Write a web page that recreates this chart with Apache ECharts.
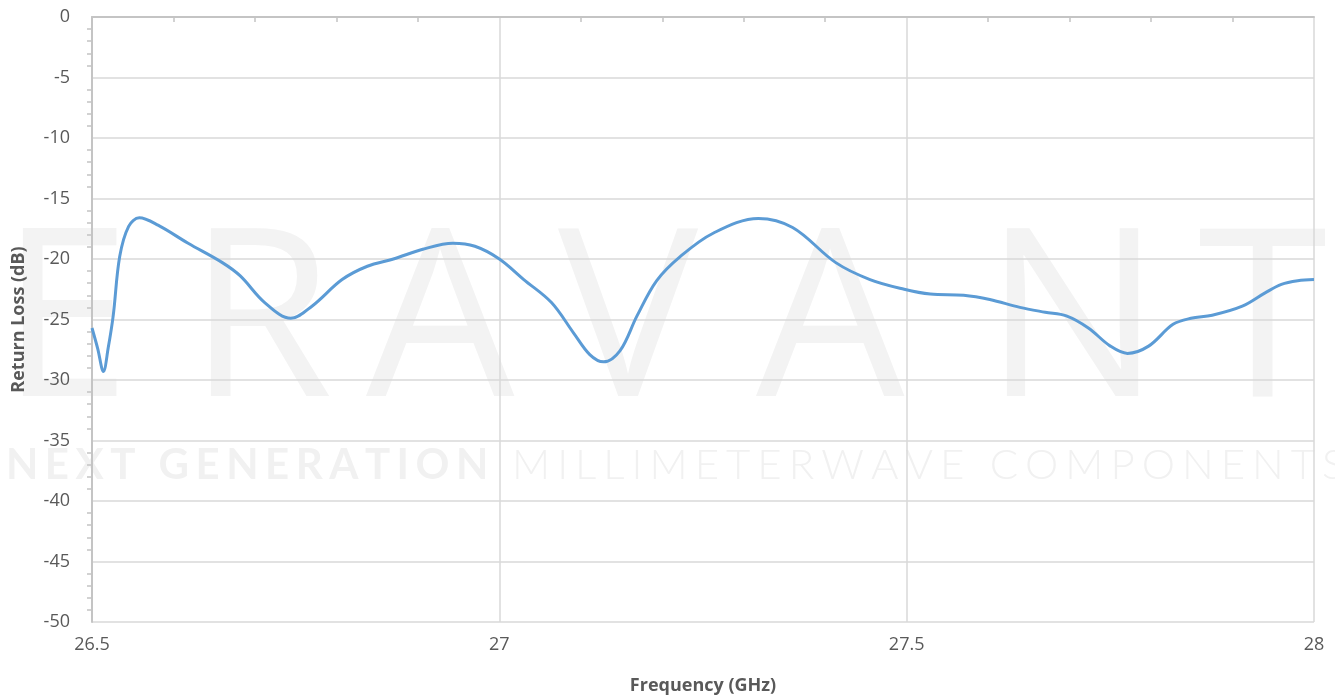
<!DOCTYPE html>
<html>
<head>
<meta charset="utf-8">
<script src="https://cdn.jsdelivr.net/npm/echarts@6/dist/echarts.min.js"></script>
<style>
  html, body { margin: 0; padding: 0; background: #ffffff; }
  #chart { width: 1335px; height: 700px; }
</style>
</head>
<body>
<div id="chart"></div>
<script>
// frequency points (GHz)
var freq = [26.500, 26.507, 26.514, 26.520, 26.526, 26.534, 26.545, 26.558, 26.581, 26.618,
  26.660, 26.682, 26.712, 26.744, 26.770, 26.807, 26.838, 26.870, 26.906, 26.943,
  26.970, 27.000, 27.030, 27.064, 27.091, 27.111, 27.128, 27.148, 27.169, 27.193,
  27.222, 27.263, 27.318, 27.360, 27.413, 27.455, 27.497, 27.529, 27.570, 27.602,
  27.639, 27.670, 27.696, 27.723, 27.750, 27.771, 27.797, 27.827, 27.849, 27.875,
  27.912, 27.940, 27.960, 27.980, 28.000]
// return loss (dB)
var returnLoss = [-25.7, -27.4, -29.3, -27.3, -24.7, -19.8, -17.3, -16.6, -17.2, -18.7,
  -20.3, -21.4, -23.6, -24.9, -23.9, -21.7, -20.6, -20.0, -19.2, -18.7,
  -18.95, -20.0, -21.7, -23.6, -26.1, -27.9, -28.5, -27.6, -24.7, -21.8,
  -19.8, -17.85, -16.65, -17.4, -20.3, -21.7, -22.5, -22.9, -23.0, -23.35,
  -24.0, -24.4, -24.7, -25.7, -27.2, -27.8, -27.2, -25.4, -24.9, -24.65,
  -23.9, -22.8, -22.1, -21.8, -21.7]
var xTicks = [26.5, 27, 27.5, 28]

// watermark text
var wmLetters = ['E', 'R', 'A', 'V', 'A', 'N', 'T']
var wmX = [0, 188, 366, 558, 756, 984, 1198]
var wmLine1 = 'NEXT GENERATION'
var wmLine2 = 'MILLIMETERWAVE COMPONENTS'

var chart = echarts.init(document.getElementById('chart'))

var ctx = document.createElement('canvas').getContext('2d')
function spacedText(str, x0, top, font, spacing, fill) {
  var out = []
  ctx.font = font
  var x = x0
  for (var i = 0; i < str.length; i++) {
    var ch = str[i]
    if (ch !== ' ') {
      out.push({ type: 'text', z: -10, left: x, top: top, style: { text: ch, fill: fill, font: font } })
    }
    x += ctx.measureText(ch).width + spacing
  }
  return out
}

var graphics = []
for (var i = 0; i < wmLetters.length; i++) {
  graphics.push({
    type: 'text', z: -10, left: wmX[i], top: 212,
    style: { text: wmLetters[i], fill: '#f3f3f3', font: '235px "Open Sans"' }
  })
}
graphics = graphics.concat(spacedText(wmLine1, 6, 444, 'bold 42px Lato', 6.5, '#f1f1f1'))
graphics = graphics.concat(spacedText(wmLine2, 512, 444, '300 42px Lato', 7, '#f1f1f1'))

var option = {
  animation: false,
  backgroundColor: '#ffffff',
  graphic: graphics,
  grid: { left: 92, right: 21, top: 17, bottom: 77 },
  xAxis: {
    type: 'value',
    min: 26.5,
    max: 28,
    interval: 0.5,
    name: 'Frequency (GHz)',
    nameLocation: 'middle',
    nameGap: 55,
    nameTextStyle: { fontFamily: 'Open Sans', fontWeight: 'bold', fontSize: 18, color: '#595959' },
    axisLine: { lineStyle: { color: '#c4c4c4', width: 2 } },
    axisTick: { show: false },
    minorTick: { show: true, splitNumber: 5, length: 5, lineStyle: { color: '#c4c4c4', width: 1.5 } },
    axisLabel: {
      margin: 14, fontFamily: 'Open Sans', fontSize: 18, color: '#595959',
      formatter: function (v) {
        for (var k = 0; k < xTicks.length; k++) {
          if (Math.abs(v - xTicks[k]) < 1e-6) return String(xTicks[k])
        }
        return ''
      }
    },
    splitLine: { show: true, lineStyle: { color: '#d9d9d9', width: 1.5 } }
  },
  yAxis: {
    type: 'value',
    min: -50,
    max: 0,
    interval: 5,
    name: 'Return Loss (dB)',
    nameLocation: 'middle',
    nameGap: 64,
    nameTextStyle: { fontFamily: 'Open Sans', fontWeight: 'bold', fontSize: 18, color: '#595959' },
    axisLine: { show: true, lineStyle: { color: '#c4c4c4', width: 2 } },
    axisTick: { show: false },
    minorTick: { show: true, splitNumber: 5, length: 5, lineStyle: { color: '#c4c4c4', width: 1.5 } },
    axisLabel: { margin: 22, fontFamily: 'Open Sans', fontSize: 18, color: '#595959' },
    splitLine: { show: true, lineStyle: { color: '#d9d9d9', width: 1.5 } }
  },
  series: [{
    type: 'line',
    data: freq.map(function (f, i) { return [f, returnLoss[i]] }),
    smooth: 0.35,
    showSymbol: false,
    lineStyle: { color: '#5b9bd5', width: 3 },
    z: 5
  }]
}
chart.setOption(option)
</script>
</body>
</html>
